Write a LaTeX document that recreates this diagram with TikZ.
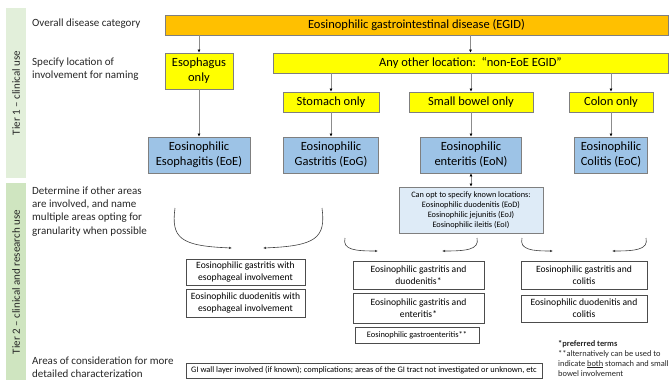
\documentclass[tikz,border=0pt]{standalone}
\usepackage{fontspec}
\setmainfont{Carlito}
\usetikzlibrary{arrows.meta}
\definecolor{tierA}{HTML}{E2EFDA}
\definecolor{tierB}{HTML}{CFE5C0}
\definecolor{egidorange}{HTML}{FFC000}
\definecolor{locyellow}{HTML}{FFFF00}
\definecolor{dxblue}{HTML}{9DC3E6}
\definecolor{optblue}{HTML}{DEEBF7}
\definecolor{boxgray}{HTML}{7F7F7F}
\definecolor{txtgray}{HTML}{262626}
\tikzset{
  bx/.style={draw=boxgray, line width=0.8pt, align=center, inner sep=1pt, text=black},
  egidbox/.style={bx, fill=egidorange, font=\fontsize{12.5}{15}\selectfont},
  locbox/.style={bx, fill=locyellow, font=\fontsize{12.5}{15}\selectfont},
  dxbox/.style={bx, fill=dxblue, font=\fontsize{12.5}{15}\selectfont},
  optbox/.style={bx, fill=optblue, font=\fontsize{8.3}{10}\selectfont},
  t2box/.style={draw=black!70, line width=0.6pt, fill=white, align=center, inner sep=1pt, font=\fontsize{9.6}{12}\selectfont},
  t2small/.style={t2box, font=\fontsize{8.4}{10}\selectfont},
  lefttxt/.style={anchor=west, align=left, text=txtgray, font=\fontsize{11}{13.2}\selectfont, inner sep=0pt},
  tierlbl/.style={rotate=90, text=txtgray, font=\fontsize{11}{13}\selectfont},
  arr/.style={draw=black!45, line width=0.6pt, -{Latex[length=3pt,width=3pt,color=black]}},
  darr/.style={draw=black!45, line width=0.6pt, {Latex[length=3pt,width=3pt,color=black]}-{Latex[length=3pt,width=3pt,color=black]}},
  curv/.style={draw=black!75, line width=0.6pt, -{Latex[length=3pt,width=2.6pt]}},
}
\begin{document}
\begin{tikzpicture}[x=1pt,y=-1pt]
\useasboundingbox (0,0) rectangle (670,380);
% tier bars
\fill[tierA] (6,8) rectangle (26,178);
\fill[tierB] (6,183) rectangle (26,380);
\node[tierlbl] (tier1) at (16,93) {Tier 1 -- clinical use};
\node[tierlbl] (tier2) at (16,282) {Tier 2 -- clinical and research use};
% left texts
\node[lefttxt] (l1) at (32,24) {Overall disease category};
\node[lefttxt] (l2) at (32,69.5) {Specify location of\\involvement for naming};
\node[lefttxt] (l3) at (32,211.5) {Determine if other areas\\are involved, and name\\multiple areas opting for\\granularity when possible};
\node[lefttxt] (l4) at (32,367.5) {Areas of consideration for more\\detailed characterization};
% tier 1 boxes
\node[egidbox, minimum width=503pt, minimum height=20pt] (egid) at (416.5,25) {Eosinophilic gastrointestinal disease (EGID)};
\node[locbox, minimum width=68pt, minimum height=36pt] (esoph) at (199,71) {Esophagus\\only};
\node[locbox, minimum width=395pt, minimum height=20pt] (other) at (470.5,63) {Any other location:\ \ ``non-EoE EGID''};
\node[locbox, minimum width=96pt, minimum height=20pt] (stom) at (331,102) {Stomach only};
\node[locbox, minimum width=124pt, minimum height=20pt] (sb) at (471,102) {Small bowel only};
\node[locbox, minimum width=84pt, minimum height=20pt] (colon) at (611,102) {Colon only};
\node[dxbox, minimum width=102pt, minimum height=36pt] (eoe) at (199,155) {Eosinophilic\\Esophagitis (EoE)};
\node[dxbox, minimum width=95pt, minimum height=36pt] (eog) at (331,155) {Eosinophilic\\Gastritis (EoG)};
\node[dxbox, minimum width=101pt, minimum height=36pt] (eon) at (471,155) {Eosinophilic\\enteritis (EoN)};
\node[dxbox, minimum width=73pt, minimum height=36pt] (eoc) at (611,155) {Eosinophilic\\Colitis (EoC)};
\node[optbox, minimum width=144pt, minimum height=46pt] (opt) at (471,210) {Can opt to specify known locations:\\Eosinophilic duodenitis (EoD)\\Eosinophilic jejunitis (EoJ)\\Eosinophilic ileitis (EoI)};
% tier 1 arrows
\draw[arr] (egid.south -| esoph.north) -- (esoph.north);
\draw[arr] (egid.south -| other.north) -- (other.north);
\draw[arr] (other.south -| stom.north) -- (stom.north);
\draw[arr] (other.south -| sb.north) -- (sb.north);
\draw[arr] (other.south -| colon.north) -- (colon.north);
\draw[arr] (esoph.south) -- (eoe.north);
\draw[arr] (stom.south) -- (eog.north);
\draw[arr] (sb.south) -- (eon.north);
\draw[arr] (colon.south) -- (eoc.north);
\draw[darr] (eon.south) -- (opt.north);
% tier 2 boxes
\node[t2box, minimum width=119pt, minimum height=26pt] (a1) at (245.5,272) {Eosinophilic gastritis with\\esophageal involvement};
\node[t2box, minimum width=119pt, minimum height=28pt] (a2) at (245.5,303) {Eosinophilic duodenitis with\\esophageal involvement};
\node[t2box, minimum width=131pt, minimum height=28pt] (b1) at (418.5,275) {Eosinophilic gastritis and\\duodenitis*};
\node[t2box, minimum width=131pt, minimum height=30pt] (b2) at (418.5,308) {Eosinophilic gastritis and\\enteritis*};
\node[t2small, minimum width=124pt, minimum height=16pt] (b3) at (417,335) {Eosinophilic gastroenteritis**};
\node[t2box, minimum width=126pt, minimum height=28pt] (c1) at (584,275) {Eosinophilic gastritis and\\colitis};
\node[t2box, minimum width=126pt, minimum height=27pt] (c2) at (584,308.5) {Eosinophilic duodenitis and\\colitis};
\node[t2small, minimum width=356pt, minimum height=15pt] (wall) at (364,370.5) {GI wall layer involved (if known); complications; areas of the GI tract not investigated or unknown, etc};
\node[anchor=north west, align=left, inner sep=0pt, text=txtgray, font=\fontsize{8.4}{10}\selectfont] (notes) at (558,340) {\textbf{*preferred terms}\\**alternatively can be used to\\indicate \underline{both} stomach and small\\bowel involvement};
% curved arrows
\coordinate (s1) at (175,208); \coordinate (e1) at (232,248);
\coordinate (s2) at (322,208); \coordinate (e2) at (263,248);
\coordinate (s3) at (345,238); \coordinate (e3) at (378,251);
\coordinate (s4) at (477,238); \coordinate (e4) at (442,251);
\coordinate (s5) at (522,238); \coordinate (e5) at (553,251);
\coordinate (s6) at (646,238); \coordinate (e6) at (612,251);
\draw[curv] (s1) .. controls (171,238) and (180,246) .. (e1);
\draw[curv] (s2) .. controls (326,238) and (316,246) .. (e2);
\draw[curv] (s3) .. controls (342,250) and (356,251) .. (e3);
\draw[curv] (s4) .. controls (480,250) and (465,251) .. (e4);
\draw[curv] (s5) .. controls (519,250) and (533,251) .. (e5);
\draw[curv] (s6) .. controls (649,250) and (634,251) .. (e6);
\end{tikzpicture}
\end{document}
